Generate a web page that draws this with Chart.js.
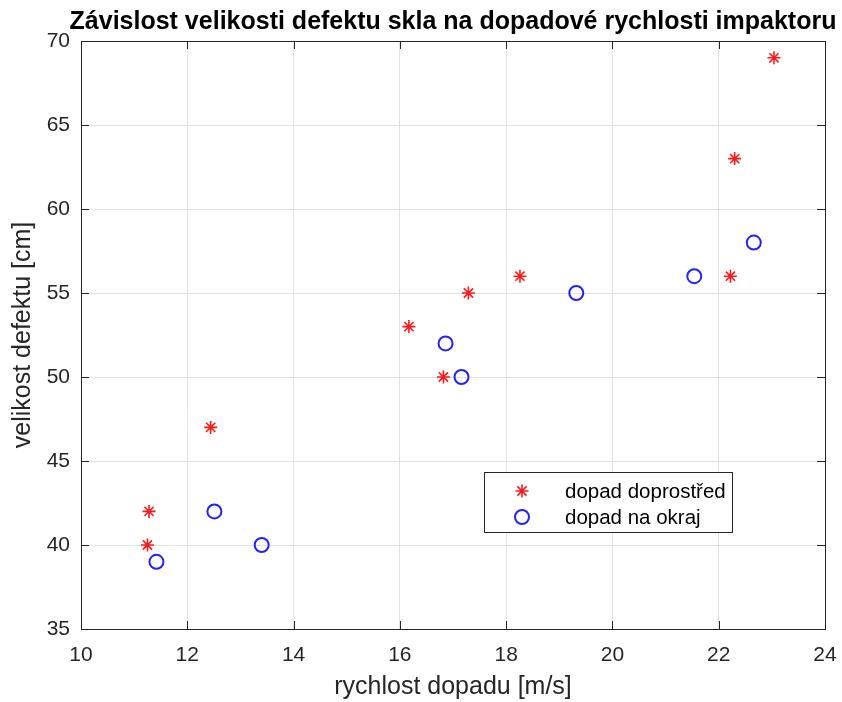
<!DOCTYPE html>
<html>
<head>
<meta charset="utf-8">
<script src="https://cdn.jsdelivr.net/npm/chart.js@4.4.0/dist/chart.umd.min.js"></script>
<style>
  html, body { margin: 0; padding: 0; background: #fff; }
  #wrap { width: 842px; height: 702px; }
</style>
</head>
<body>
<div id="wrap"><canvas id="c" width="842" height="702"></canvas></div>
<script>
// values
const centreSpeed = [11.25, 11.28, 12.44, 16.17, 16.82, 17.29, 18.26, 22.22, 22.30, 23.04];
const centreSize  = [40, 42, 47, 53, 50, 55, 56, 56, 63, 69];
const edgeSpeed   = [11.42, 12.51, 13.40, 16.86, 17.16, 19.32, 21.54, 22.66];
const edgeSize    = [39, 42, 40, 52, 50, 55, 56, 58];

const xTicks = [10, 12, 14, 16, 18, 20, 22, 24];
const yTicks = [35, 40, 45, 50, 55, 60, 65, 70];

const titleText = 'Závislost velikosti defektu skla na dopadové rychlosti impaktoru';

const FONT = '"Liberation Sans", Arial, Helvetica, sans-serif';
const AXIS = '#262626';

function toPoints(xs, ys) {
    return xs.map((x, i) => ({ x: x, y: ys[i] }));
}

// box, inner ticks, title over the plot and the in-plot legend, MATLAB style
const matlabBox = {
    id: 'matlabBox',
    afterDatasetsDraw(chart) {
        const ctx = chart.ctx;
        const a = chart.chartArea;
        const xs = chart.scales.x, ys = chart.scales.y;
        const len = 8;
        ctx.save();
        ctx.strokeStyle = AXIS;
        ctx.lineWidth = 1;
        ctx.beginPath();
        xTicks.forEach(v => {
            const p = Math.round(xs.getPixelForValue(v)) + 0.5;
            ctx.moveTo(p, a.bottom); ctx.lineTo(p, a.bottom - len);
            ctx.moveTo(p, a.top); ctx.lineTo(p, a.top + len);
        });
        yTicks.forEach(v => {
            const p = Math.round(ys.getPixelForValue(v)) + 0.5;
            ctx.moveTo(a.left, p); ctx.lineTo(a.left + len, p);
            ctx.moveTo(a.right, p); ctx.lineTo(a.right - len, p);
        });
        ctx.stroke();
        ctx.strokeRect(Math.round(a.left) + 0.5, Math.round(a.top) + 0.5,
            Math.round(a.right - a.left), Math.round(a.bottom - a.top));

        // title, centred on the plot area
        ctx.fillStyle = '#000';
        ctx.font = 'bold 25px ' + FONT;
        ctx.textAlign = 'center';
        ctx.textBaseline = 'alphabetic';
        ctx.fillText(titleText, (a.left + a.right) / 2, 29);

        // legend
        const lx = 484, ly = 472, lw = 248, lh = 60;
        ctx.fillStyle = '#fff';
        ctx.fillRect(lx, ly, lw, lh);
        ctx.strokeStyle = AXIS;
        ctx.lineWidth = 1;
        ctx.strokeRect(lx + 0.5, ly + 0.5, lw, lh);
        ctx.font = '20.5px ' + FONT;
        ctx.textAlign = 'left';
        ctx.textBaseline = 'middle';
        chart.data.datasets.forEach((ds, i) => {
            const cy = ly + 19 + i * 26;
            ctx.strokeStyle = ds.borderColor;
            ctx.fillStyle = ds.backgroundColor;
            ctx.lineWidth = ds.borderWidth;
            Chart.helpers.drawPoint(ctx, {
                pointStyle: ds.pointStyle, radius: ds.pointRadius, rotation: 0,
                borderWidth: ds.borderWidth
            }, lx + 38, cy);
            ctx.fillStyle = '#000';
            ctx.fillText(ds.label, lx + 81, cy + 1);
        });
        ctx.restore();
    }
};

new Chart(document.getElementById('c'), {
    type: 'scatter',
    data: {
        datasets: [
            {
                label: 'dopad doprostřed',
                data: toPoints(centreSpeed, centreSize),
                pointStyle: 'star',
                pointRadius: 6.5,
                borderColor: 'rgba(255,0,0,0.9)',
                backgroundColor: 'rgba(255,0,0,0.9)',
                borderWidth: 1.6
            },
            {
                label: 'dopad na okraj',
                data: toPoints(edgeSpeed, edgeSize),
                pointStyle: 'circle',
                pointRadius: 7,
                borderColor: '#2222ff',
                backgroundColor: 'rgba(0,0,0,0)',
                borderWidth: 2
            }
        ]
    },
    options: {
        responsive: false,
        animation: false,
        layout: { padding: { left: 0, right: 17, top: 41, bottom: 0 } },
        plugins: {
            legend: { display: false },
            tooltip: { enabled: false },
            title: { display: false }
        },
        scales: {
            x: {
                type: 'linear',
                min: 10, max: 24,
                afterBuildTicks: s => { s.ticks = xTicks.map(v => ({ value: v })); },
                afterFit: s => { s.height = 73; s.paddingLeft = 0; s.paddingRight = 0; },
                grid: { color: '#e3e3e3', drawTicks: false },
                border: { display: false },
                ticks: { color: AXIS, padding: 14, font: { family: FONT, size: 21 } },
                title: {
                    display: true, text: 'rychlost dopadu [m/s]', color: AXIS,
                    font: { family: FONT, size: 25 }, padding: { top: 0, bottom: 0 }
                }
            },
            y: {
                type: 'linear',
                min: 35, max: 70,
                afterBuildTicks: s => { s.ticks = yTicks.map(v => ({ value: v })); },
                afterFit: s => { s.width = 81; s.paddingTop = 0; s.paddingBottom = 0; },
                grid: { color: '#e3e3e3', drawTicks: false },
                border: { display: false },
                ticks: { color: AXIS, padding: 11, font: { family: FONT, size: 21 } },
                title: {
                    display: true, text: 'velikost defektu [cm]', color: AXIS,
                    font: { family: FONT, size: 25 }, padding: { top: 8, bottom: 0 }
                }
            }
        }
    },
    plugins: [matlabBox]
});
</script>
</body>
</html>
